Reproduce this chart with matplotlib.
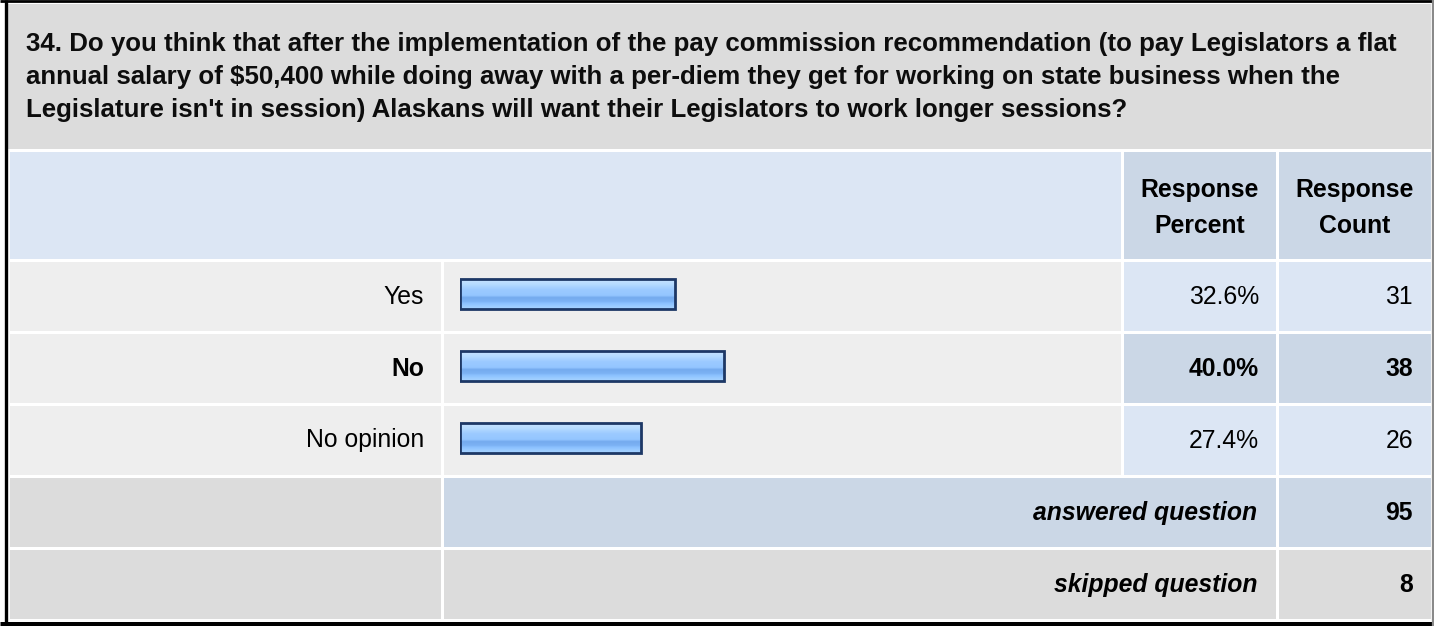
import numpy as np
import matplotlib
matplotlib.use("Agg")
import matplotlib.pyplot as plt
from matplotlib.patches import Rectangle
from matplotlib.colors import LinearSegmentedColormap

# survey data
question = ("34. Do you think that after the implementation of the pay commission recommendation (to pay Legislators a flat\n"
            "annual salary of $50,400 while doing away with a per-diem they get for working on state business when the\n"
            "Legislature isn't in session) Alaskans will want their Legislators to work longer sessions?")
choices = ["Yes", "No", "No opinion"]
percents = [32.6, 40.0, 27.4]
counts = [31, 38, 26]
highlight = [False, True, False]
answered = 95
skipped = 8

W, H = 1434, 626
plt.rcParams['font.family'] = ['Liberation Sans', 'DejaVu Sans']
FS = 17.8

fig = plt.figure(figsize=(W / 100, H / 100), dpi=100)
fig.patch.set_facecolor('white')
ax = fig.add_axes([0, 0, 1, 1])
ax.set_xlim(0, W)
ax.set_ylim(H, 0)
ax.axis('off')

GRAY = '#dcdcdc'
LIGHT = '#eeeeee'
BLUE = '#dce6f4'
DBLUE = '#cbd7e6'


def cell(x0, y0, x1, y1, color):
    ax.add_patch(Rectangle((x0, y0), x1 - x0, y1 - y0, facecolor=color, edgecolor='none', zorder=1))


# title block
cell(8, 4, 1431, 149, GRAY)
ax.text(26, 77, question, ha='left', va='center', fontsize=18.6, fontweight='bold',
        color='#0d0d0d', linespacing=1.5, zorder=3)

# header
cell(10, 152, 1121, 259, BLUE)
cell(1124, 152, 1276, 259, DBLUE)
cell(1279, 152, 1431, 259, DBLUE)
ax.text(1200, 208, "Response\nPercent", ha='center', va='center', fontsize=FS,
        fontweight='bold', linespacing=1.58, zorder=3)
ax.text(1355, 208, "Response\nCount", ha='center', va='center', fontsize=FS,
        fontweight='bold', linespacing=1.58, zorder=3)

# answer rows
row_tops = [262, 334, 406]
row_h = 69
for i, (lab, p, c, hl) in enumerate(zip(choices, percents, counts, highlight)):
    y0 = row_tops[i]
    y1 = y0 + row_h
    yc = (y0 + y1) / 2
    cell(10, y0, 441, y1, LIGHT)
    cell(444, y0, 1121, y1, LIGHT)
    cc = DBLUE if hl else BLUE
    cell(1124, y0, 1276, y1, cc)
    cell(1279, y0, 1431, y1, cc)
    fw = 'bold' if hl else 'normal'
    ax.text(424, yc, lab, ha='right', va='center', fontsize=FS, fontweight=fw, zorder=3)
    ax.text(1259, yc, f"{p:.1f}%", ha='right', va='center', fontsize=FS, fontweight=fw, zorder=3)
    ax.text(1413, yc, str(c), ha='right', va='center', fontsize=FS, fontweight=fw, zorder=3)

# summary rows
cell(10, 478, 441, 547, GRAY)
cell(444, 478, 1276, 547, DBLUE)
cell(1279, 478, 1431, 547, DBLUE)
ax.text(1257, 513, "answered question", ha='right', va='center', fontsize=FS,
        fontweight='bold', style='italic', zorder=3)
ax.text(1413, 513, str(answered), ha='right', va='center', fontsize=FS, fontweight='bold', zorder=3)

cell(10, 550, 441, 619, GRAY)
cell(444, 550, 1276, 619, GRAY)
cell(1279, 550, 1431, 619, GRAY)
ax.text(1257, 585, "skipped question", ha='right', va='center', fontsize=FS,
        fontweight='bold', style='italic', zorder=3)
ax.text(1413, 585, str(skipped), ha='right', va='center', fontsize=FS, fontweight='bold', zorder=3)

# outer frame
ax.plot([5.5, 5.5], [0, 626], color='black', lw=2.4, zorder=5, solid_capstyle='butt')
ax.plot([0, 1434], [1.2, 1.2], color='black', lw=2.0, zorder=5, solid_capstyle='butt')
ax.plot([0, 1434], [623.5, 623.5], color='black', lw=3.6, zorder=5, solid_capstyle='butt')
ax.plot([1433, 1433], [0, 626], color='#8a8a8a', lw=1.6, zorder=5, solid_capstyle='butt')

# bar area: 0-100% mapped onto the bar column
bx0, bx1 = 460, 1120
by0, by1 = 258, 474
bax = fig.add_axes([bx0 / W, 1 - by1 / H, (bx1 - bx0) / W, (by1 - by0) / H])
bax.set_xlim(0, 100)
bax.set_ylim(len(choices) - 0.5, -0.5)
bax.axis('off')
bax.patch.set_alpha(0)

grad = LinearSegmentedColormap.from_list('bar', [
    (0.0, '#c8e4ff'), (0.18, '#b4daff'), (0.35, '#9ccaff'), (0.55, '#94c6ff'),
    (0.62, '#74aaee'), (0.75, '#7cb2f4'), (0.82, '#8cc2ff'), (1.0, '#a8d4ff')])
gimg = np.linspace(0, 1, 64).reshape(-1, 1)
ypos = np.arange(len(choices))
bh = 0.41
bars = bax.barh(ypos, percents, height=bh, color='none', edgecolor='none')
for yp, p, b in zip(ypos, percents, bars):
    im = bax.imshow(gimg, cmap=grad, aspect='auto', interpolation='bilinear',
                    extent=(0, p, yp + bh / 2, yp - bh / 2), zorder=2)
    im.set_clip_path(b)
bax.barh(ypos, percents, height=bh, fill=False, edgecolor='#1d3866', linewidth=2.0, zorder=3)
bax.set_xlim(0, 100)
bax.set_ylim(len(choices) - 0.5, -0.5)

fig.savefig('out.png', dpi=100, facecolor='white')
